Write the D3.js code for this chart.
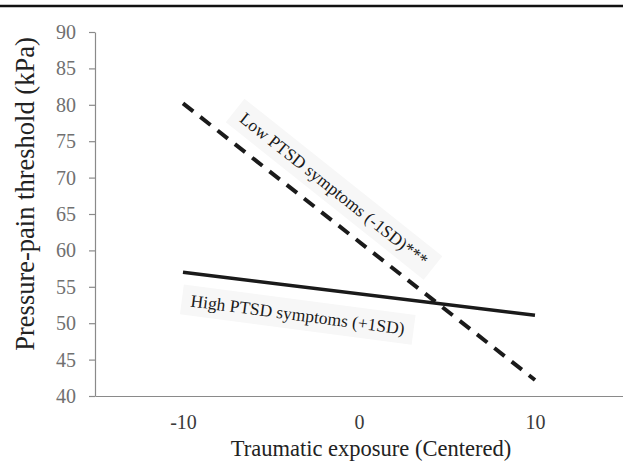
<!DOCTYPE html>
<html>
<head>
<meta charset="utf-8">
<script src="https://cdn.jsdelivr.net/npm/d3@7"></script>
<style>
  body { margin: 0; background: #fff; }
  svg { display: block; font-family: "Liberation Serif", "Times New Roman", serif; }
</style>
</head>
<body>
<svg id="chart" width="623" height="462"></svg>
<script>
// data
var xTicks = [-10, 0, 10]
var yTicks = [40, 45, 50, 55, 60, 65, 70, 75, 80, 85, 90]
var lowPTSD = [[-10, 80.2], [10, 42.2]]     // dashed, -1SD
var highPTSD = [[-10, 57.0], [10, 51.1]]    // solid, +1SD
var labels = [
  { text: "Low PTSD symptoms (-1SD)***", x: -6.85, y: 77.8, angle: 38.5 },
  { text: "High PTSD symptoms (+1SD)", x: -9.6, y: 52.3, angle: 7.5 }
]

var svg = d3.select("#chart")
var W = 623, H = 462
var mLeft = 95, mRight = 623, mTop = 32, mBottom = 396
var serif = "Liberation Serif, Times New Roman, serif"

var x = d3.scaleLinear().domain([-15, 15]).range([mLeft, mRight])
var y = d3.scaleLinear().domain([40, 90]).range([mBottom, mTop])
var fmt = function(d){ return String(d) }

// rule on top
svg.append("line")
  .attr("x1", 0).attr("x2", W).attr("y1", 6).attr("y2", 6)
  .attr("stroke", "#111").attr("stroke-width", 2.5)

// y axis
var yAxis = svg.append("g")
  .attr("transform", "translate(" + mLeft + ",0)")
  .call(d3.axisLeft(y).tickValues(yTicks).tickFormat(fmt).tickSize(6).tickSizeOuter(0).tickPadding(13))
  .attr("font-family", serif).attr("font-size", 20)
yAxis.select(".domain").attr("stroke", "#8a8a8a").attr("stroke-width", 1.2)
yAxis.selectAll(".tick line").attr("stroke", "#8a8a8a").attr("stroke-width", 1.2)
yAxis.selectAll(".tick text").attr("fill", "#707070")

// x axis (no tick marks)
var xAxis = svg.append("g")
  .attr("transform", "translate(0," + mBottom + ")")
  .call(d3.axisBottom(x).tickValues(xTicks).tickFormat(fmt).tickSize(0).tickPadding(19).tickSizeOuter(0))
  .attr("font-family", serif).attr("font-size", 20)
xAxis.select(".domain").attr("stroke", "#8a8a8a").attr("stroke-width", 1.2)
xAxis.selectAll(".tick text").attr("fill", "#3a3a3a")

// axis titles
svg.append("text")
  .attr("transform", "translate(34,194) rotate(-90)")
  .attr("text-anchor", "middle")
  .attr("fill", "#222")
  .style("font-size", "26.5px")
  .text("Pressure-pain threshold (kPa)")

svg.append("text")
  .attr("x", 371).attr("y", 456)
  .attr("text-anchor", "middle")
  .attr("fill", "#222")
  .style("font-size", "22.5px")
  .text("Traumatic exposure (Centered)")

// lines
var line = d3.line().x(function(d){ return x(d[0]) }).y(function(d){ return y(d[1]) })

svg.append("path").datum(lowPTSD)
  .attr("d", line).attr("fill", "none")
  .attr("stroke", "#1a1a1a").attr("stroke-width", 4)
  .attr("stroke-dasharray", "13,9")

svg.append("path").datum(highPTSD)
  .attr("d", line).attr("fill", "none")
  .attr("stroke", "#1a1a1a").attr("stroke-width", 3.5)

// rotated labels with faint boxes
labels.forEach(function(l){
  var g = svg.append("g")
    .attr("transform", "translate(" + x(l.x) + "," + y(l.y) + ") rotate(" + l.angle + ")")
  var bg = g.append("rect").attr("fill", "#f7f7f7")
  var t = g.append("text")
    .attr("fill", "#1a1a1a")
    .style("font-size", "17.5px")
    .text(l.text)
  var bb = t.node().getBBox()
  bg.attr("x", bb.x - 9).attr("y", bb.y - 5)
    .attr("width", bb.width + 18).attr("height", bb.height + 10)
})
</script>
</body>
</html>
